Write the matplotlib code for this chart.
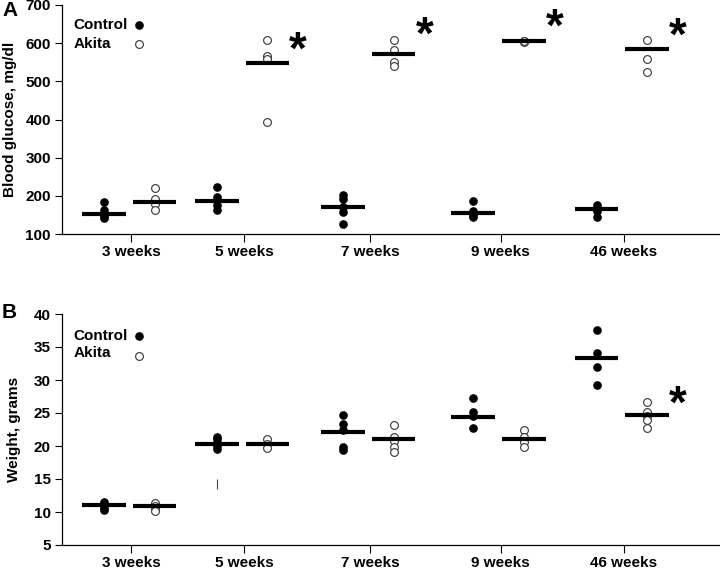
import numpy as np
import matplotlib
matplotlib.use("Agg")
import matplotlib.pyplot as plt

plt.rcParams['font.family'] = ['Liberation Sans', 'DejaVu Sans']
plt.rcParams['font.weight'] = 'bold'

# categories
weeks = ["3 weeks", "5 weeks", "7 weeks", "9 weeks", "46 weeks"]

# Panel A: blood glucose, mg/dl
glu_control = [[184, 162, 152, 146, 142],
               [222, 198, 176, 163],
               [202, 191, 172, 158, 126],
               [187, 161, 150, 145],
               [176, 168, 160, 145]]
glu_control_line = [153, 187, 170, 154, 165]
glu_akita = [[221, 191, 178, 162],
             [608, 566, 558, 394],
             [608, 582, 551, 541],
             [606, 604, 605],
             [608, 558, 524]]
glu_akita_line = [185, 549, 572, 605, 584]
glu_star = [None, 603, 642, 663, 640]

# Panel B: weight, grams
wt_control = [[11.5, 11.2, 11.0, 10.6, 10.3],
              [21.4, 21.0, 20.5, 20.0, 19.6],
              [24.7, 23.4, 22.5, 19.9, 19.4],
              [27.2, 25.1, 24.5, 22.7],
              [37.6, 34.1, 31.9, 29.2]]
wt_control_line = [11.1, 20.3, 22.1, 24.4, 33.3]
wt_akita = [[11.3, 10.9, 10.6, 10.2],
            [21.1, 20.3, 19.7],
            [23.2, 21.4, 20.7, 19.9, 19.1],
            [22.5, 21.4, 20.6, 19.9],
            [26.6, 25.2, 24.5, 23.9, 22.7]]
wt_akita_line = [10.9, 20.3, 21.0, 21.0, 24.7]
wt_star = [None, None, None, None, 27.6]
wt_stray = 14.2  # small vertical mark under 5 weeks control

# group centres on x (uneven as in the original)
xpos = np.array([0.0, 0.917, 1.94, 3.0, 4.0])
off_c, off_a, half = -0.222, 0.19, 0.178

fig = plt.figure(figsize=(7.2, 5.69), dpi=100)
W, H = 720.0, 569.0
axA = fig.add_axes([62/W, 1-234/H, 658/W, 229/H])
axB = fig.add_axes([62/W, 1-545/H, 658/W, 231/H])


def draw(ax, ctrl, cline, akita, aline, stars):
    for i in range(len(weeks)):
        xc = xpos[i] + off_c
        xa = xpos[i] + off_a
        ax.plot([xc]*len(ctrl[i]), ctrl[i], 'o', color='black', ms=5.2, zorder=3)
        ax.plot([xa]*len(akita[i]), akita[i], 'o', mfc='white', mec='#333333', mew=0.8, ms=5.6, zorder=3)
        ax.plot([xc-half, xc+half], [cline[i], cline[i]], color='black', lw=3, solid_capstyle='butt', zorder=4)
        ax.plot([xa-half, xa+half], [aline[i], aline[i]], color='black', lw=3, solid_capstyle='butt', zorder=4)
        if stars[i] is not None:
            # star drawn with a pixel offset, since the glyph sits high in its box
            ax.annotate("*", (xpos[i]+0.44, stars[i]), xytext=(0, -10), textcoords='offset pixels',
                        fontsize=33, ha='center', va='center', fontweight='bold')
    ax.set_xlim(-0.561, 4.78)
    ax.set_xticks(xpos)
    ax.set_xticklabels(weeks)
    for s in ['top', 'right']:
        ax.spines[s].set_visible(False)
    ax.tick_params(axis='x', length=6, width=0.8, pad=2, labelsize=11)
    ax.tick_params(axis='y', length=5, width=0.8, pad=3, labelsize=11)
    ax.spines['left'].set_linewidth(0.9)
    ax.spines['bottom'].set_linewidth(0.9)


draw(axA, glu_control, glu_control_line, glu_akita, glu_akita_line, glu_star)
axA.set_ylim(100, 700)
axA.set_yticks(np.arange(100, 701, 100))
axA.set_ylabel("Blood glucose, mg/dl", fontsize=11, fontweight='bold')
axA.yaxis.set_label_coords(-0.069, 0.5)

draw(axB, wt_control, wt_control_line, wt_akita, wt_akita_line, wt_star)
axB.plot([xpos[1]+off_c], [wt_stray], '|', color='#444444', ms=7, mew=0.8)
axB.set_ylim(5, 40)
axB.set_yticks(np.arange(5, 41, 5))
axB.set_ylabel("Weight, grams", fontsize=11, fontweight='bold')
axB.yaxis.set_label_coords(-0.063, 0.5)

# legends
for ax, yc, ya, yam in [(axA, 0.913, 0.83, 0.83), (axB, 0.905, 0.831, 0.818)]:
    ax.text(0.018, yc, "Control", transform=ax.transAxes, fontsize=11, va='center', fontweight='bold')
    ax.text(0.018, ya, "Akita", transform=ax.transAxes, fontsize=11, va='center', fontweight='bold')
    ax.plot([0.117], [yc], 'o', color='black', ms=5.2, transform=ax.transAxes, clip_on=False)
    ax.plot([0.117], [yam], 'o', mfc='white', mec='#333333', mew=0.8, ms=5.6, transform=ax.transAxes, clip_on=False)

fig.text(2/W, 1-11/H, "A", fontsize=15, fontweight='bold', va='center')
fig.text(2/W, 1-313/H, "B", fontsize=15, fontweight='bold', va='center')

fig.savefig("out.png", dpi=100)
